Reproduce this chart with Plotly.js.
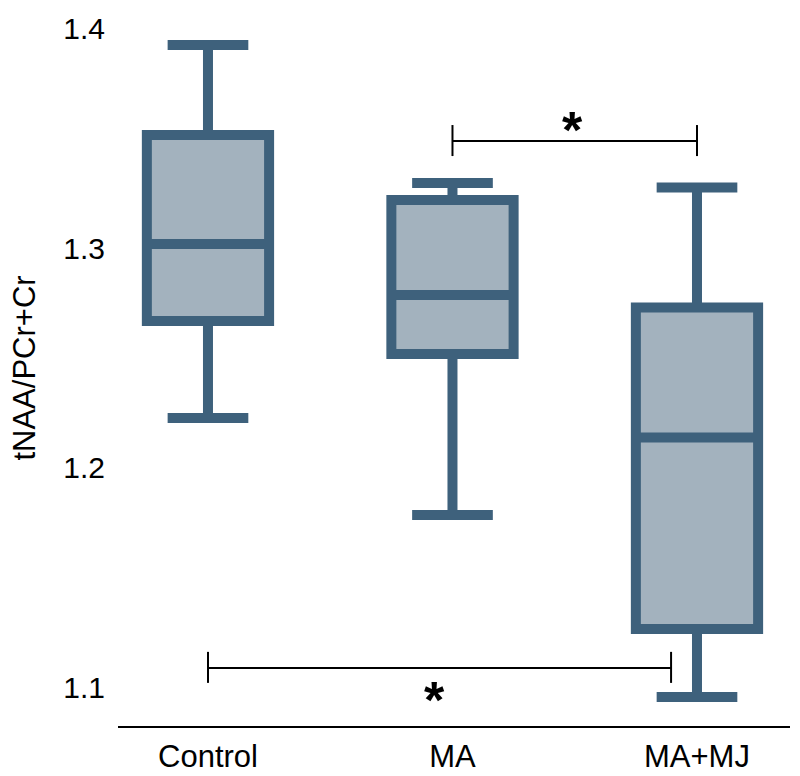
<!DOCTYPE html>
<html>
<head>
<meta charset="utf-8">
<script src="https://cdn.plot.ly/plotly-3.0.1.min.js"></script>
<style>html,body{margin:0;padding:0;background:#fff;}#chart{width:800px;height:776px;}</style>
</head>
<body>
<div id="chart"></div>
<script>
// Data
const categories = ['Control', 'MA', 'MA+MJ'];
const positions = [0, 1, 2];
const upperWhisker = [1.3923, 1.3295, 1.3275];
const q3Values = [1.3514, 1.3218, 1.2730];
const medianValues = [1.3018, 1.2786, 1.2139];
const q1Values = [1.2668, 1.2518, 1.1268];
const lowerWhisker = [1.2227, 1.1786, 1.0959];
const yTickValues = [1.1, 1.2, 1.3, 1.4];
const yTickLabels = ['1.1', '1.2', '1.3', '1.4'];

const font = 'Liberation Sans, Arial, sans-serif';
const lineColor = '#3e617c';
const fillColor = '#a3b2be';

const trace = {
  type: 'box',
  x: positions,
  q1: q1Values,
  median: medianValues,
  q3: q3Values,
  lowerfence: lowerWhisker,
  upperfence: upperWhisker,
  width: 0.5,
  whiskerwidth: 0.66,
  boxpoints: false,
  fillcolor: fillColor,
  line: {color: lineColor, width: 10},
  hoverinfo: 'skip',
  showlegend: false
};

// significance brackets
const brackets = [
  {x0: 1, x1: 2, y: 1.3486, tickTop: 1.3559, tickBot: 1.3418, starX: 1.49, starY: 1.3536},
  {x0: 0, x1: 1.894, y: 1.1091, tickTop: 1.1164, tickBot: 1.1023, starX: 0.925, starY: 1.0945}
];
const shapes = [];
const annotations = [];
brackets.forEach(b => {
  const ln = {color: '#000', width: 2};
  shapes.push({type: 'line', xref: 'x', yref: 'y', x0: b.x0, x1: b.x1, y0: b.y, y1: b.y, line: ln});
  shapes.push({type: 'line', xref: 'x', yref: 'y', x0: b.x0, x1: b.x0, y0: b.tickBot, y1: b.tickTop, line: ln});
  shapes.push({type: 'line', xref: 'x', yref: 'y', x0: b.x1, x1: b.x1, y0: b.tickBot, y1: b.tickTop, line: ln});
  annotations.push({x: b.starX, y: b.starY, xref: 'x', yref: 'y', text: '<b>*</b>', showarrow: false,
    font: {family: font, size: 52, color: '#000'}, yanchor: 'middle', xanchor: 'center'});
});

const layout = {
  width: 800, height: 776,
  margin: {l: 118, r: 10, t: 10, b: 50},
  paper_bgcolor: '#fff', plot_bgcolor: '#fff',
  font: {family: font, color: '#000'},
  xaxis: {
    range: [-0.368, 2.3804],
    tickvals: positions, ticktext: categories,
    showgrid: false, zeroline: false,
    showline: true, linecolor: '#000', linewidth: 2,
    ticks: '', tickfont: {family: font, size: 31, color: '#000'},
    ticklabelstandoff: 2,
    fixedrange: true
  },
  yaxis: {
    range: [1.0827, 1.4082],
    tickvals: yTickValues, ticktext: yTickLabels,
    showgrid: false, zeroline: false, showline: false,
    ticks: '', tickfont: {family: font, size: 30, color: '#000'},
    ticklabelstandoff: 12,
    title: {text: 'tNAA/PCr+Cr', font: {family: font, size: 31, color: '#000'}, standoff: 18},
    automargin: false,
    fixedrange: true
  },
  shapes: shapes,
  annotations: annotations
};

Plotly.newPlot('chart', [trace], layout, {staticPlot: true, displayModeBar: false});
</script>
</body>
</html>
